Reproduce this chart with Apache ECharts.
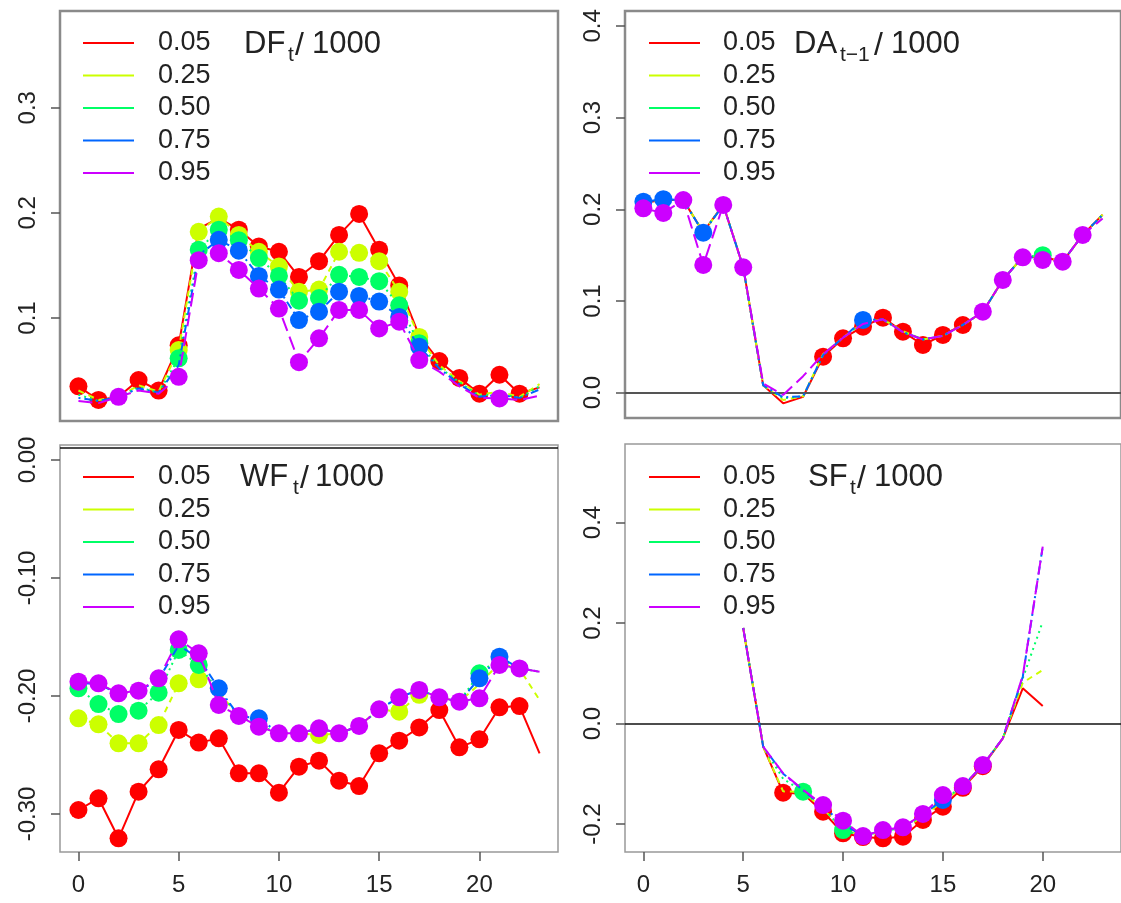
<!DOCTYPE html>
<html><head><meta charset="utf-8">
<script src="https://cdn.jsdelivr.net/npm/echarts@6/dist/echarts.min.js"></script>
<style>html,body{margin:0;padding:0;background:#fff}#c{width:1121px;height:903px}</style>
</head><body><div id="c"></div>
<script>
// ---------------- data ----------------
const hours = [0,1,2,3,4,5,6,7,8,9,10,11,12,13,14,15,16,17,18,19,20,21,22,23];
const quantiles = ['0.05','0.25','0.50','0.75','0.95'];
const xTicks = [0,5,10,15,20];

// DF_t / 1000
const DF_q05 = [0.035,0.022,0.025,0.041,0.031,0.074,0.185,0.195,0.184,0.168,0.163,0.139,0.154,0.179,0.199,0.165,0.131,0.083,0.059,0.043,0.028,0.046,0.028,0.034];
const DF_q25 = [0.031,0.022,0.025,0.036,0.030,0.0695,0.182,0.1965,0.179,0.163,0.149,0.125,0.127,0.163,0.162,0.154,0.125,0.082,0.055,0.040,0.027,0.030,0.025,0.037];
const DF_q50 = [0.027,0.021,0.025,0.034,0.029,0.0616,0.165,0.184,0.174,0.157,0.140,0.1165,0.119,0.141,0.139,0.135,0.112,0.076,0.053,0.039,0.026,0.028,0.024,0.035];
const DF_q75 = [0.024,0.021,0.025,0.033,0.029,0.055,0.160,0.1743,0.164,0.140,0.127,0.098,0.106,0.125,0.121,0.1156,0.101,0.0727,0.052,0.037,0.025,0.027,0.024,0.032];
const DF_q95 = [0.021,0.019,0.025,0.031,0.028,0.044,0.155,0.1616,0.1457,0.128,0.109,0.058,0.0806,0.1076,0.1076,0.090,0.0965,0.060,0.049,0.035,0.024,0.0235,0.022,0.026];
const DF_pts_q05 = [0,1,3,4,5,8,9,10,11,12,13,14,15,16,18,19,20,21,22];
const DF_pts_q25 = [5,6,7,8,9,10,11,12,13,14,15,16,17];
const DF_pts_q50 = [5,6,7,8,9,10,11,12,13,14,15,16,17];
const DF_pts_q75 = [7,8,9,10,11,12,13,14,15,16,17];
const DF_pts_q95 = [2,5,6,7,8,9,10,11,12,13,14,15,16,17,21];
const DF_yTicks = [0.1,0.2,0.3];

// DA_{t-1} / 1000
const DA_q05 = [0.207,0.210,0.210,0.175,0.205,0.137,0.008,-0.0116,-0.0044,0.0393,0.0593,0.072,0.0818,0.0665,0.052,0.063,0.0738,0.088,0.123,0.148,0.148,0.143,0.172,0.194];
const DA_q25 = [0.207,0.210,0.210,0.175,0.205,0.137,0.008,-0.008,-0.004,0.042,0.060,0.076,0.080,0.067,0.058,0.062,0.074,0.088,0.123,0.148,0.149,0.143,0.172,0.194];
const DA_q50 = [0.207,0.210,0.210,0.175,0.205,0.137,0.008,-0.006,-0.004,0.041,0.060,0.077,0.080,0.066,0.058,0.062,0.074,0.088,0.123,0.148,0.150,0.143,0.172,0.194];
const DA_q75 = [0.2083,0.211,0.210,0.1745,0.2047,0.137,0.008,-0.005,-0.004,0.041,0.060,0.0793,0.080,0.066,0.058,0.062,0.074,0.088,0.123,0.148,0.147,0.143,0.172,0.194];
const DA_q95 = [0.201,0.196,0.210,0.1393,0.2047,0.1367,0.010,-0.0025,0.018,0.042,0.060,0.075,0.080,0.066,0.058,0.062,0.074,0.0883,0.1229,0.1476,0.1447,0.1429,0.172,0.190];
const DA_pts_q05 = [9,10,11,12,13,14,15,16];
const DA_pts_q25 = [];
const DA_pts_q50 = [20];
const DA_pts_q75 = [0,1,3,11];
const DA_pts_q95 = [0,1,2,3,4,5,17,18,19,20,21,22];
const DA_yTicks = [0.0,0.1,0.2,0.3,0.4];

// WF_t / 1000
const WF_q05 = [-0.2966,-0.2867,-0.3206,-0.2811,-0.2621,-0.2288,-0.2395,-0.2359,-0.2655,-0.2655,-0.2819,-0.2599,-0.2548,-0.2718,-0.2763,-0.2486,-0.2379,-0.2266,-0.2119,-0.2435,-0.2367,-0.2096,-0.2085,-0.2486];
const WF_q25 = [-0.2189,-0.224,-0.2401,-0.2401,-0.2246,-0.1893,-0.1859,-0.197,-0.217,-0.226,-0.2316,-0.2316,-0.233,-0.2316,-0.2254,-0.2113,-0.2133,-0.199,-0.2011,-0.2048,-0.19,-0.172,-0.177,-0.2034];
const WF_q50 = [-0.1935,-0.2068,-0.2153,-0.2124,-0.1972,-0.161,-0.1737,-0.196,-0.2169,-0.225,-0.2316,-0.2316,-0.2274,-0.2316,-0.2254,-0.2113,-0.2011,-0.1949,-0.2011,-0.2048,-0.1808,-0.168,-0.1766,-0.1794];
const WF_q75 = [-0.189,-0.190,-0.198,-0.196,-0.186,-0.157,-0.168,-0.1935,-0.2169,-0.2189,-0.2316,-0.2316,-0.2274,-0.2316,-0.2254,-0.2113,-0.2011,-0.1949,-0.2011,-0.2048,-0.185,-0.1667,-0.1766,-0.1794];
const WF_q95 = [-0.1879,-0.1893,-0.1977,-0.1955,-0.185,-0.152,-0.1638,-0.2076,-0.2169,-0.226,-0.2316,-0.2316,-0.2274,-0.2316,-0.2254,-0.2113,-0.2011,-0.1949,-0.2011,-0.2048,-0.202,-0.1737,-0.1766,-0.1794];
const WF_pts_q05 = [0,1,2,3,4,5,6,7,8,9,10,11,12,13,14,15,16,17,18,19,20,21,22];
const WF_pts_q25 = [0,1,2,3,4,5,6,12,16,17];
const WF_pts_q50 = [0,1,2,3,4,5,6,20];
const WF_pts_q75 = [7,9,20,21];
const WF_pts_q95 = [0,1,2,3,4,5,6,7,8,9,10,11,12,13,14,15,16,17,18,19,20,21,22];
const WF_yTicks = [0.0,-0.1,-0.2,-0.3];

// SF_t / 1000
const SF_q05 = [null,null,null,null,null,0.19,-0.046,-0.1377,-0.14,-0.1755,-0.2186,-0.226,-0.2285,-0.2252,-0.192,-0.1655,-0.128,-0.085,-0.0295,0.07,0.0348,null,null,null];
const SF_q25 = [null,null,null,null,null,0.19,-0.046,-0.135,-0.136,-0.17,-0.21,-0.224,-0.215,-0.21,-0.185,-0.155,-0.126,-0.083,-0.0295,0.0812,0.1065,null,null,null];
const SF_q50 = [null,null,null,null,null,0.19,-0.046,-0.11,-0.1357,-0.168,-0.212,-0.224,-0.214,-0.208,-0.182,-0.152,-0.125,-0.083,-0.0295,0.09,0.2026,null,null,null];
const SF_q75 = [null,null,null,null,null,0.19,-0.046,-0.10,-0.133,-0.165,-0.20,-0.224,-0.213,-0.207,-0.181,-0.1522,-0.125,-0.083,-0.0295,0.093,0.3518,null,null,null];
const SF_q95 = [null,null,null,null,null,0.19,-0.046,-0.099,-0.132,-0.1622,-0.1934,-0.2239,-0.212,-0.2066,-0.180,-0.1423,-0.1244,-0.0826,-0.0295,0.095,0.3518,null,null,null];
const SF_pts_q05 = [7,9,10,11,12,13,14,15,16,17];
const SF_pts_q25 = [];
const SF_pts_q50 = [8,10];
const SF_pts_q75 = [15];
const SF_pts_q95 = [9,10,11,12,13,14,15,16,17];
const SF_yTicks = [-0.2,0.0,0.2,0.4];

// ---------------- styles / layout ----------------
const colors = ['#FF0000','#CCFF00','#00FF66','#0066FF','#CC00FF'];
const dashes = ['solid',[6,5],[2,4],[2,4,8,4],[14,6]];
const FONT = '"Liberation Sans", Arial, sans-serif';
const TXT = '#222';

const panels = [
  {grid:{left:60,top:11,width:498,height:410}, y:[0.002,0.392], yTicks:DF_yTicks, dec:1,
   series:[DF_q05,DF_q25,DF_q50,DF_q75,DF_q95], pts:[DF_pts_q05,DF_pts_q25,DF_pts_q50,DF_pts_q75,DF_pts_q95],
   border:['#8a8a8a',2.5], xAxis:false, hline:null,
   leg:{lx:83,tx:158,y0:43}, title:[['DF',244,44,31],['t',288,55,21],['/',295,46,32],['1000',312,44,31]]},
  {grid:{left:625,top:11,width:497,height:407}, y:[-0.0276,0.4162], yTicks:DA_yTicks, dec:1,
   series:[DA_q05,DA_q25,DA_q50,DA_q75,DA_q95], pts:[DA_pts_q05,DA_pts_q25,DA_pts_q50,DA_pts_q75,DA_pts_q95],
   border:['#8a8a8a',2.5], xAxis:false, hline:{v:0,color:'#555',w:2},
   leg:{lx:649,tx:723,y0:43}, title:[['DA',794,44,31],['t\u22121',840,55,21],['/',874,46,32],['1000',891,44,31]]},
  {grid:{left:60,top:445,width:498,height:407}, y:[-0.3322,0.0127], yTicks:WF_yTicks, dec:2,
   series:[WF_q05,WF_q25,WF_q50,WF_q75,WF_q95], pts:[WF_pts_q05,WF_pts_q25,WF_pts_q50,WF_pts_q75,WF_pts_q95],
   border:['#999',1.5], xAxis:true, hline:{v:0.0085,color:'#111',w:1.5},
   leg:{lx:83,tx:158,y0:477}, title:[['WF',240,477,31],['t',293,488,21],['/',300,479,32],['1000',315,477,31]]},
  {grid:{left:625,top:444,width:497,height:408}, y:[-0.2557,0.5562], yTicks:SF_yTicks, dec:1,
   series:[SF_q05,SF_q25,SF_q50,SF_q75,SF_q95], pts:[SF_pts_q05,SF_pts_q25,SF_pts_q50,SF_pts_q75,SF_pts_q95],
   border:['#999',1.5], xAxis:true, hline:{v:0,color:'#111',w:1.5},
   leg:{lx:649,tx:723,y0:477}, title:[['SF',808,477,31],['t',850,488,21],['/',857,479,32],['1000',874,477,31]]}
];

const grids=[], xAxes=[], yAxes=[], series=[], graphics=[];
panels.forEach((p,pi)=>{
  grids.push(Object.assign({show:true,borderColor:p.border[0],borderWidth:p.border[1],backgroundColor:'transparent',containLabel:false},p.grid));
  xAxes.push({gridIndex:pi,type:'value',min:-0.92,max:23.92,position:'bottom',
    axisLine:{show:false,onZero:false},splitLine:{show:false},
    axisTick:{show:p.xAxis,customValues:xTicks,length:9,lineStyle:{color:'#555',width:1.5}},
    axisLabel:{show:p.xAxis,customValues:xTicks,margin:21,fontSize:24,fontFamily:FONT,color:TXT}});
  yAxes.push({gridIndex:pi,type:'value',min:p.y[0],max:p.y[1],position:'left',
    axisLine:{show:false,onZero:false},splitLine:{show:false},
    axisTick:{show:true,customValues:p.yTicks,length:9,lineStyle:{color:'#555',width:1.5}},
    axisLabel:{show:true,customValues:p.yTicks,rotate:90,margin:20,fontSize:24,fontFamily:FONT,color:TXT,
      formatter:(v)=>Number(v).toFixed(p.dec)}});
  p.series.forEach((vals,qi)=>{
    const pts = p.pts[qi];
    const s = {type:'line',name:quantiles[qi],xAxisIndex:pi,yAxisIndex:pi,
      data: hours.map(h => vals[h]==null ? [h,null] :
        {value:[h,vals[h]], symbol: pts.includes(h)?'circle':'none'}),
      symbolSize:18, showAllSymbol:true, connectNulls:false, animation:false, silent:true,
      lineStyle:{color:colors[qi],width:2,type:dashes[qi]},
      itemStyle:{color:colors[qi],borderWidth:0},
      z: 2+qi};
    if(qi===0 && p.hline){
      s.markLine={silent:true,symbol:'none',label:{show:false},animation:false,
        lineStyle:{color:p.hline.color,width:p.hline.w,type:'solid'},data:[{yAxis:p.hline.v}]};
    }
    series.push(s);
  });
  // legend
  quantiles.forEach((q,qi)=>{
    const y = p.leg.y0 + qi*32.5;
    graphics.push({type:'line',shape:{x1:p.leg.lx,y1:y,x2:p.leg.lx+51,y2:y},style:{stroke:colors[qi],lineWidth:2},z:100});
    graphics.push({type:'text',x:p.leg.tx,y:y,style:{text:q,fontSize:27,fontFamily:FONT,fill:TXT,align:'left',verticalAlign:'middle'},z:100});
  });
  p.title.forEach(t=>{
    graphics.push({type:'text',x:t[1],y:t[2],style:{text:t[0],fontSize:t[3],fontFamily:FONT,fill:TXT,align:'left',verticalAlign:'middle'},z:100});
  });
});

const chart = echarts.init(document.getElementById('c'),null,{renderer:'canvas'});
chart.setOption({animation:false,backgroundColor:'#fff',grid:grids,xAxis:xAxes,yAxis:yAxes,series:series,graphic:graphics});
</script></body></html>
